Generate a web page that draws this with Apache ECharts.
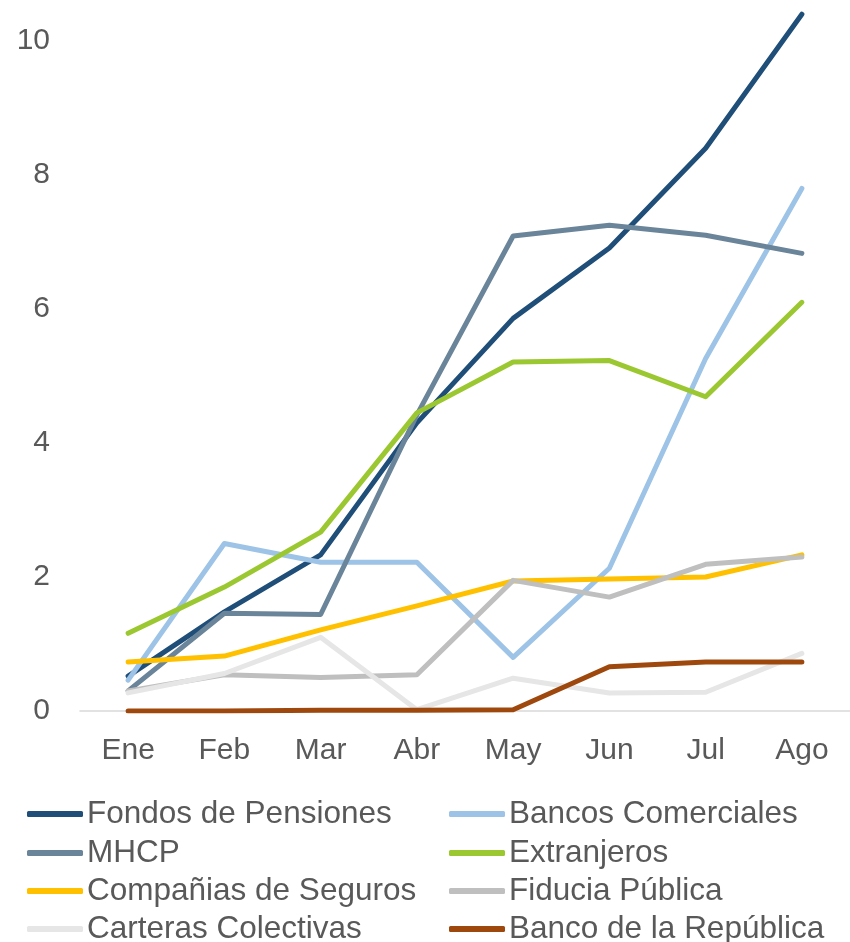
<!DOCTYPE html>
<html>
<head>
<meta charset="utf-8">
<script src="https://cdn.jsdelivr.net/npm/echarts@6/dist/echarts.min.js"></script>
<style>
    html, body { margin: 0; padding: 0; background: #fff; }
    #chart { width: 850px; height: 942px; }
</style>
</head>
<body>
<div id="chart"></div>
<script>
// datos
const meses = ['Ene', 'Feb', 'Mar', 'Abr', 'May', 'Jun', 'Jul', 'Ago']
const fondosPensiones = [0.52, 1.48, 2.33, 4.3, 5.86, 6.91, 8.4, 10.4]
const bancosComerciales = [0.46, 2.5, 2.22, 2.22, 0.8, 2.13, 5.26, 7.8]
const mhcp = [0.3, 1.46, 1.44, 4.42, 7.09, 7.25, 7.1, 6.83]
const extranjeros = [1.16, 1.85, 2.67, 4.45, 5.21, 5.23, 4.69, 6.1]
const companiasSeguros = [0.73, 0.82, 1.21, 1.57, 1.94, 1.97, 2.0, 2.33]
const fiduciaPublica = [0.3, 0.54, 0.5, 0.54, 1.95, 1.7, 2.19, 2.3]
const carterasColectivas = [0.27, 0.56, 1.1, 0.02, 0.49, 0.27, 0.28, 0.86]
const bancoRepublica = [0, 0, 0.01, 0.01, 0.02, 0.66, 0.73, 0.73]

const textColor = '#595959'
const fuente = '"Liberation Sans", Arial, sans-serif'

function serie(name, color, data) {
    return {
        name: name,
        type: 'line',
        data: data,
        symbol: 'none',
        lineStyle: { color: color, width: 5, cap: 'round', join: 'round' },
        itemStyle: { color: color }
    }
}

// leyenda en dos columnas: una leyenda por elemento
const leyendaCol1 = ['Fondos de Pensiones', 'MHCP', 'Compañias de Seguros', 'Carteras Colectivas']
const leyendaCol2 = ['Bancos Comerciales', 'Extranjeros', 'Fiducia Pública', 'Banco de la República']
const filas = [814, 853, 891, 929]

function leyenda(name, left, centro) {
    return {
        data: [name],
        left: left,
        top: centro - 16,
        padding: 0,
        itemWidth: 56,
        itemHeight: 6,
        icon: 'roundRect',
        textStyle: { color: textColor, fontSize: 31.5, fontFamily: fuente, padding: [0, 0, 0, -1] }
    }
}
const legends = []
leyendaCol1.forEach((n, i) => legends.push(leyenda(n, 27, filas[i])))
leyendaCol2.forEach((n, i) => legends.push(leyenda(n, 449, filas[i])))

const myChart = echarts.init(document.getElementById('chart'))
const option = {
    backgroundColor: '#fff',
    animation: false,
    grid: {
        left: 80,
        right: 0,
        top: 7.5,
        bottom: 231
    },
    legend: legends,
    xAxis: {
        type: 'category',
        data: meses,
        boundaryGap: true,
        axisTick: { show: false },
        axisLine: { lineStyle: { color: '#D9D9D9', width: 1.5 } },
        axisLabel: { color: textColor, fontSize: 30, fontFamily: fuente, margin: 25 }
    },
    yAxis: {
        type: 'value',
        min: 0,
        max: 10.5,
        interval: 2,
        splitLine: { show: false },
        axisLine: { show: false },
        axisTick: { show: false },
        axisLabel: { color: textColor, fontSize: 30, fontFamily: fuente, margin: 30, showMaxLabel: false }
    },
    series: [
        serie('Fondos de Pensiones', '#1F4E79', fondosPensiones),
        serie('Bancos Comerciales', '#9DC3E6', bancosComerciales),
        serie('MHCP', '#6A8499', mhcp),
        serie('Extranjeros', '#9BC730', extranjeros),
        serie('Compañias de Seguros', '#FFC000', companiasSeguros),
        serie('Fiducia Pública', '#BFBFBF', fiduciaPublica),
        serie('Carteras Colectivas', '#E7E6E6', carterasColectivas),
        serie('Banco de la República', '#9E480E', bancoRepublica)
    ]
}
myChart.setOption(option)
window.addEventListener('resize', () => {
    myChart.resize()
})
</script>
</body>
</html>
